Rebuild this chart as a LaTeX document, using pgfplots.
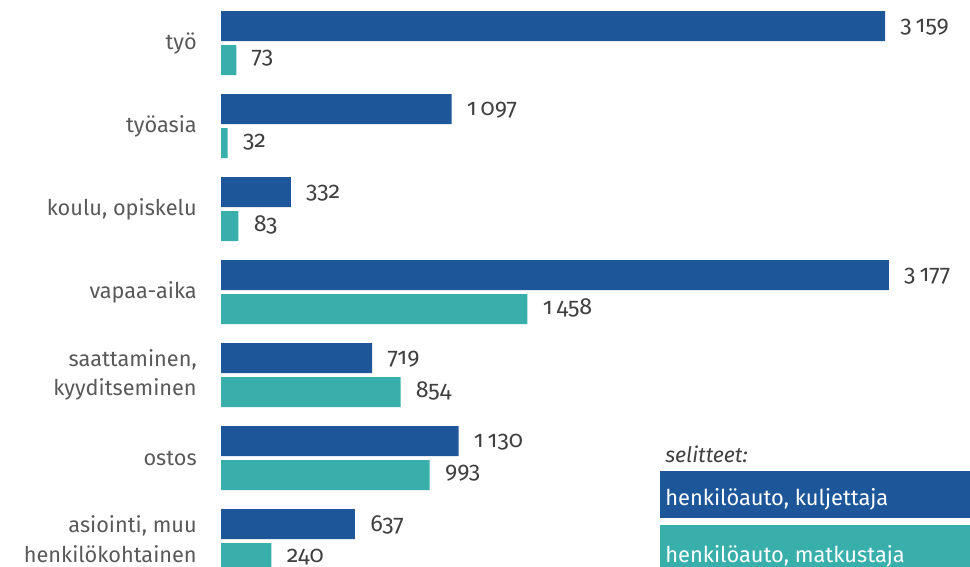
\documentclass[border=0pt]{standalone}
\usepackage{fontspec}
\setmainfont{Fira Sans}[Numbers=OldStyle]
\usepackage{pgfplots}
\pgfplotsset{compat=1.18}
\definecolor{darkblue}{HTML}{1E5799}
\definecolor{tealbar}{HTML}{38AFAB}
\definecolor{labgray}{HTML}{595959}
\definecolor{valgray}{HTML}{404040}
\pgfkeys{/pgf/number format/assume math mode=true}
\begin{document}
\begin{tikzpicture}[x=0.75pt,y=-0.75pt]
\begin{axis}[
  at={(165.75pt,0pt)}, anchor=north west,
  scale only axis, width=561.75pt, height=425.25pt,
  xmin=0, xmax=3563, ymin=0, ymax=567, y dir=reverse,
  xbar, bar width=22.5pt, bar shift=0pt,
  axis line style={draw=none}, xtick=\empty, major tick length=0pt,
  ytick={43,126,209,292,375,458,539},
  yticklabels={työ,työasia,{koulu, opiskelu},vapaa-aika,{saattaminen,\\kyyditseminen},ostos,{asiointi, muu\\henkilökohtainen}},
  yticklabel style={align=right, font=\fontsize{16.3}{22}\selectfont, text=labgray, inner sep=0pt, xshift=-18pt},
  nodes near coords,
  point meta=x,
  nodes near coords style={font=\fontsize{17.5}{20}\selectfont, text=valgray, anchor=west, xshift=8pt, yshift=-1pt},
  /pgf/number format/.cd, fixed, precision=0, 1000 sep={\,},
  /pgfplots/.cd, clip=false,
]
% henkilöauto, kuljettaja
\addplot[draw=none, fill=darkblue] coordinates {
(3159,26) (1097,109) (332,192) (3177,275) (719,358) (1130,441) (637,524)};
% henkilöauto, matkustaja
\addplot[draw=none, fill=tealbar, every node near coord/.append style={yshift=2pt}] coordinates {
(73,60) (32,143) (83,226) (1458,309) (854,392) (993,475) (240,558)};
\end{axis}
% legend
\node[anchor=base west, inner sep=0pt, text=valgray, font=\fontsize{16}{18}\selectfont\itshape] at (665,462) {selitteet:};
\fill[darkblue] (660,471) rectangle (980,518);
\node[anchor=base west, inner sep=0pt, text=white, font=\fontsize{16.4}{18}\selectfont] at (665,505) {henkilöauto, kuljettaja};
\fill[tealbar] (660,525) rectangle (980,580);
\node[anchor=base west, inner sep=0pt, text=white, font=\fontsize{16.4}{18}\selectfont] at (665,562) {henkilöauto, matkustaja};
\pgfresetboundingbox
\path[use as bounding box] (0,0) rectangle (970,567);
\end{tikzpicture}
\end{document}
